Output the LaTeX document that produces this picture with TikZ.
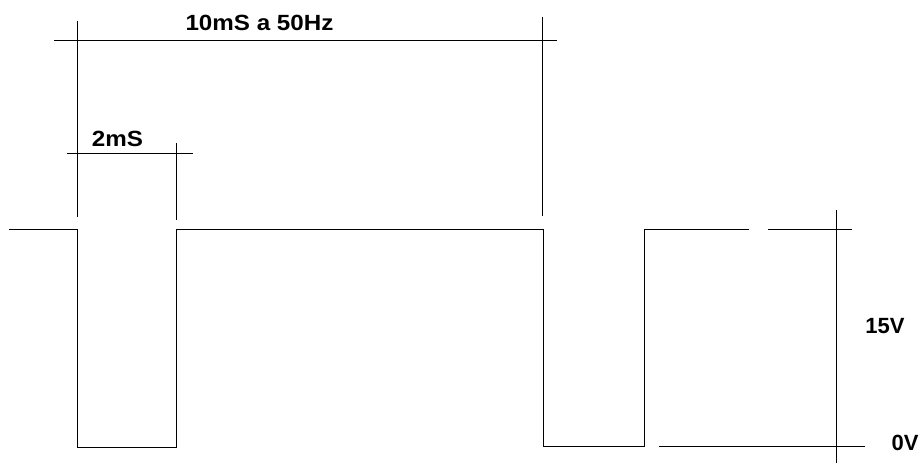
\documentclass[tikz,border=0pt]{standalone}
\usepackage{fontspec}
\setmainfont{Liberation Sans}
\begin{document}
\begin{tikzpicture}[x=1pt,y=-1pt,
  wave/.style={line width=0.9pt, line cap=rect},
  dimline/.style={line width=0.7pt},
  lbl/.style={font=\bfseries\fontsize{22}{24}\selectfont, inner sep=0pt},
  widelbl/.style={lbl, xscale=1.1}]
\useasboundingbox (0,0) rectangle (923,464);
% waveform
\draw[wave] (9,229.3) -- (77,229.3) -- (77,447) -- (176.5,447) -- (176.5,229.3)
  -- (543.3,229.3) -- (543.3,446.7) -- (644,446.7) -- (644,229.3) -- (749,229.3);
\draw[wave] (768,229.3) -- (851.7,229.3);
\draw[wave] (659,446.7) -- (865,446.7);
% dimension lines
\draw[dimline] (77,21) -- (77,217);
\draw[dimline] (54,40.7) -- (557,40.7);
\draw[dimline] (542,17) -- (542,216);
\draw[dimline] (67,153) -- (193,153);
\draw[dimline] (176.5,143) -- (176.5,220);
\draw[dimline] (836.7,210) -- (836.7,463);
% labels
\node[widelbl] (t10) at (259.5,22.5) {10mS a 50Hz};
\node[widelbl] (t2) at (117.5,139) {2mS};
\node[lbl] (t15) at (885,326.5) {15V};
\node[lbl] (t0) at (905,443) {0V};
\end{tikzpicture}
\end{document}
